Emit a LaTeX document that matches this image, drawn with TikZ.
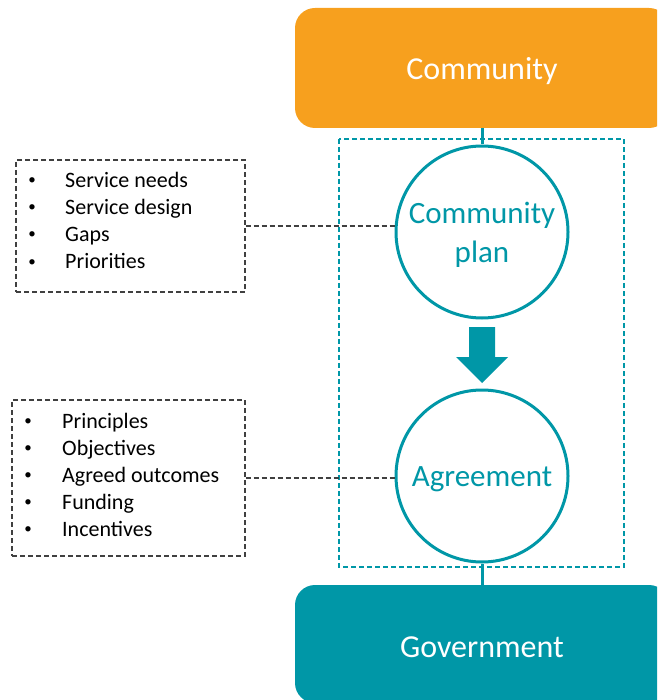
\documentclass[tikz,border=0pt]{standalone}
\usepackage{fontspec}
\setmainfont{Carlito}
\definecolor{corange}{RGB}{247,160,30}
\definecolor{cteal}{RGB}{0,151,167}
\definecolor{cgray}{RGB}{64,64,64}
\newcommand{\dn}[1]{\raisebox{-3pt}[\height][\depth]{#1}}
\begin{document}
\begin{tikzpicture}[x=1pt,y=-1pt,
  bigbox/.style={rounded corners=20pt, minimum width=374pt, minimum height=120pt, text=white, font=\fontsize{32}{38}\selectfont, inner sep=0pt},
  ring/.style={circle, draw=cteal, fill=white, line width=3pt, minimum size=172pt, inner sep=0pt, text=cteal, align=center, font=\fontsize{31}{39}\selectfont},
  listbox/.style={draw=cgray, dash pattern=on 5pt off 3pt, line width=1.3pt, inner sep=0pt},
  itemtext/.style={anchor=base west, inner sep=0pt, font=\fontsize{22}{26}\selectfont, text=black},
  bul/.style={anchor=base, inner sep=0pt, font=\fontsize{15}{18}\selectfont, text=black},
  tealline/.style={draw=cteal, line width=3pt},
  grayconn/.style={draw=cgray, dash pattern=on 5pt off 3pt, line width=1.3pt},
  frame/.style={draw=cteal, dash pattern=on 5pt off 3pt, line width=1.3pt}
]
\useasboundingbox (0,0) rectangle (657,700);
\clip (0,0) rectangle (657,700);

% dashed frame
\draw[frame] (339,139) rectangle (624,567);

% big boxes
\node[bigbox, fill=corange] (community) at (482,68) {\dn{Community}};
\node[bigbox, fill=cteal, minimum height=118pt] (govt) at (482,644) {\dn{Government}};

% circles
\node[ring] (plan) at (482,232) {\dn{Community}\\\dn{plan}};
\node[ring] (agree) at (482,476) {\dn{Agreement}};

% connectors
\draw[tealline] (community.south) -- (plan.north);
\draw[tealline] (agree.south) -- (govt.north);

% block arrow
\fill[cteal] (469,327) -- (495,327) -- (495,357) -- (508,357) -- (482,383) -- (456,357) -- (469,357) -- cycle;

% list 1
\node[listbox, minimum width=229pt, minimum height=132pt] (list1) at (130.5,226) {};
\node[bul] (b11) at (32,185) {•};
\node[itemtext] (t11) at (65,188) {Service needs};
\node[bul] (b12) at (32,212) {•};
\node[itemtext] (t12) at (65,215) {Service design};
\node[bul] (b13) at (32,239) {•};
\node[itemtext] (t13) at (65,242) {Gaps};
\node[bul] (b14) at (32,266) {•};
\node[itemtext] (t14) at (65,269) {Priorities};

% list 2
\node[listbox, minimum width=233pt, minimum height=156pt] (list2) at (128.5,478) {};
\node[bul] (b21) at (28,425) {•};
\node[itemtext] (t21) at (62,428) {Principles};
\node[bul] (b22) at (28,452) {•};
\node[itemtext] (t22) at (62,455) {Objectives};
\node[bul] (b23) at (28,479) {•};
\node[itemtext] (t23) at (62,482) {Agreed outcomes};
\node[bul] (b24) at (28,506) {•};
\node[itemtext] (t24) at (62,509) {Funding};
\node[bul] (b25) at (28,533) {•};
\node[itemtext] (t25) at (62,536) {Incentives};

% dashed connectors
\draw[grayconn] (list1.east) -- (list1.east -| plan.west);
\draw[grayconn] (list2.east) -- (list2.east -| agree.west);
\end{tikzpicture}
\end{document}
